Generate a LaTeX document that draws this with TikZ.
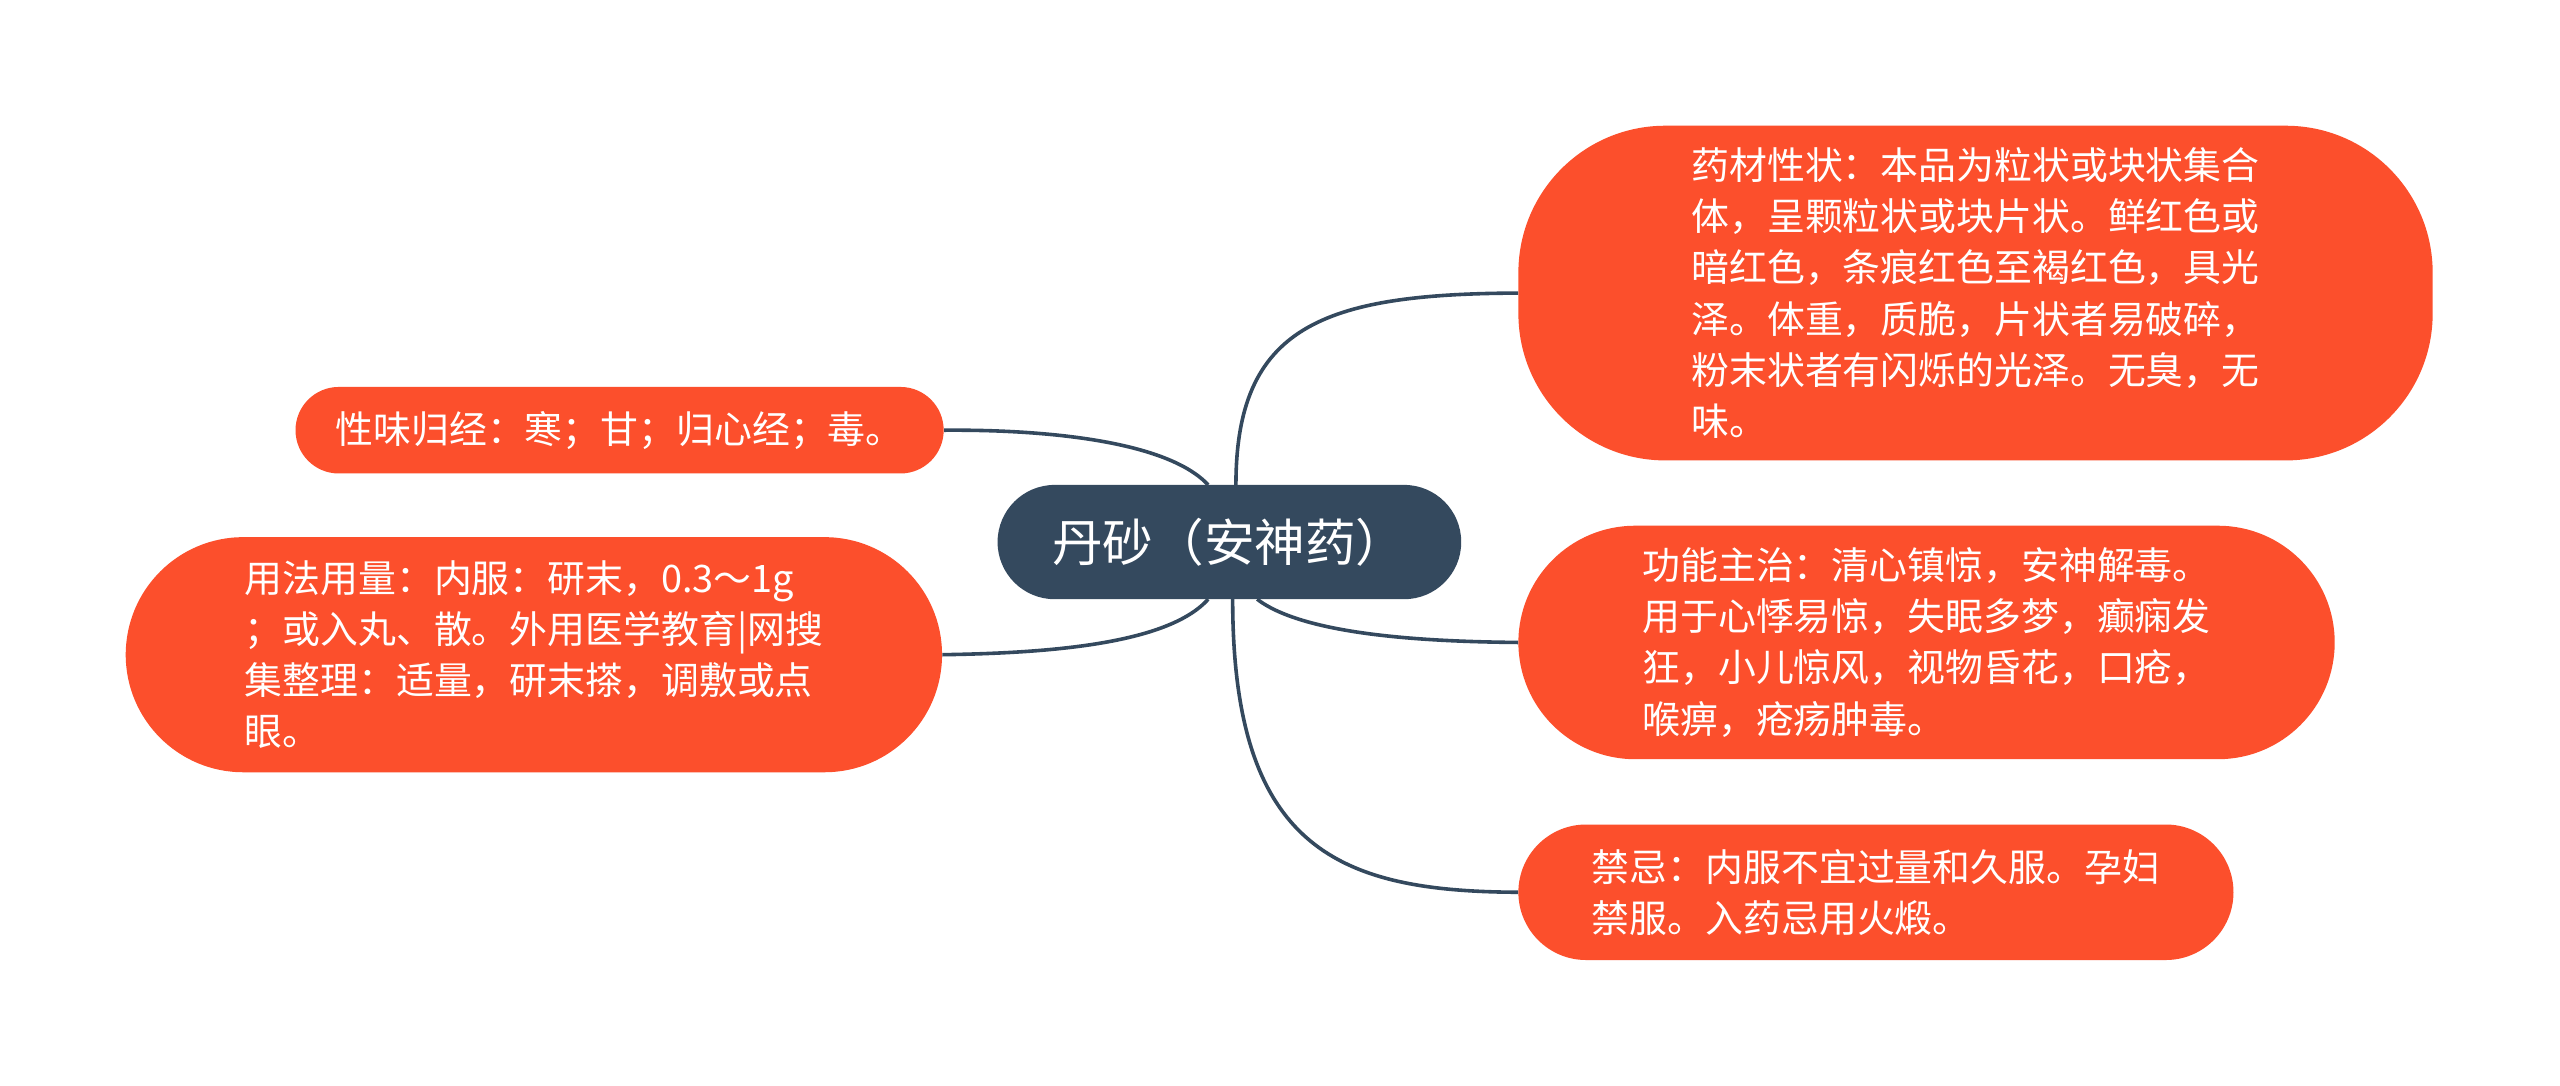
\documentclass[tikz,border=0pt]{standalone}
\usepackage{fontspec}
\setmainfont{Noto Sans CJK SC}
\begin{document}
\begin{tikzpicture}[x=1pt,y=-1pt,
  leaf/.style={fill=orange1,draw=none,text=white,align=left,inner sep=0pt,font=\fontsize{23.2}{31.3}\selectfont},
  hub/.style={fill=hubc,draw=none,text=white,inner sep=0pt,font=\fontsize{31}{34}\selectfont},
  link/.style={draw=linec,line width=2.2pt}]
\definecolor{orange1}{HTML}{FC4F2C}
\definecolor{hubc}{HTML}{34495E}
\definecolor{linec}{HTML}{34495E}
\useasboundingbox (0,0) rectangle (1568,665);
\fill[white] (0,0) rectangle (1568,665);
\node[hub,minimum width=284,minimum height=70,rounded corners=35] (c) at (753,332) {丹砂（安神药）};
\node[leaf,minimum width=560,minimum height=205,rounded corners=90] (a) at (1210,179.5) {药材性状：本品为粒状或块状集合\\体，呈颗粒状或块片状。鲜红色或\\暗红色，条痕红色至褐红色，具光\\泽。体重，质脆，片状者易破碎，\\粉末状者有闪烁的光泽。无臭，无\\味。};
\node[leaf,minimum width=397,minimum height=53,rounded corners=26.5] (b) at (379.5,263.5) {性味归经：寒；甘；归心经；毒。};
\node[leaf,minimum width=500,minimum height=144,rounded corners=72] (d) at (327,401) {用法用量：内服：研末，0.3～1g\\；或入丸、散。外用医学教育|网搜\\集整理：适量，研末搽，调敷或点\\眼。};
\node[leaf,minimum width=500,minimum height=143,rounded corners=71.5] (e) at (1180,393.5) {功能主治：清心镇惊，安神解毒。\\用于心悸易惊，失眠多梦，癫痫发\\狂，小儿惊风，视物昏花，口疮，\\喉痹，疮疡肿毒。};
\node[leaf,minimum width=438,minimum height=83,rounded corners=41.5] (f) at (1149,546.5) {禁忌：内服不宜过量和久服。孕妇\\禁服。入药忌用火煅。};
\coordinate (ct) at (757,297);
\coordinate (cl) at (740,297);
\coordinate (cb) at (740,367);
\coordinate (cr) at (770,367);
\coordinate (cbb) at (755,367);
\draw[link] (ct) .. controls (757,200) and (810,180) .. (a.west);
\draw[link] (cl) .. controls (715,270) and (640,263) .. (b.east);
\draw[link] (cb) .. controls (715,395) and (640,400) .. (d.east);
\draw[link] (cr) .. controls (800,390) and (880,393) .. (e.west);
\draw[link] (cbb) .. controls (755,520) and (820,546) .. (f.west);
\end{tikzpicture}
\end{document}
